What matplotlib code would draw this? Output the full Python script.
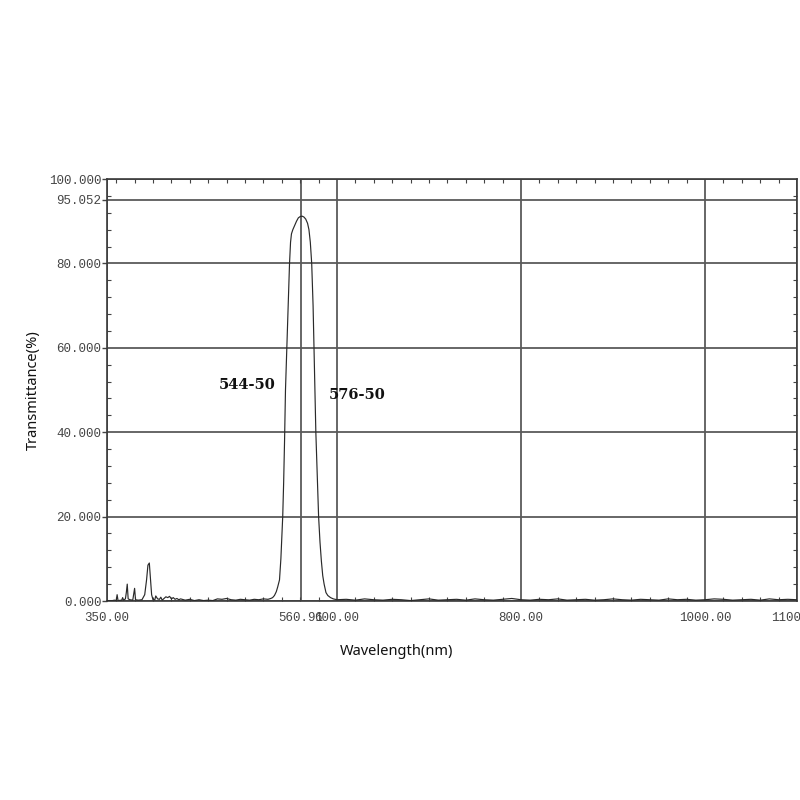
import matplotlib
matplotlib.use("Agg")
import matplotlib.pyplot as plt
from matplotlib.ticker import MultipleLocator, FixedLocator, FixedFormatter

# ---- data ----
wl_blue = [350, 356, 358, 360, 361, 362, 366, 367, 368, 370, 371, 372, 373, 375, 378,
           380, 381, 384, 388, 391, 393, 394.5, 396, 397, 398.5, 400, 402, 403, 405,
           407, 408.5, 410, 412, 414, 416, 418, 420, 422, 424, 426, 428, 430]
t_blue = [0.1, 0.1, 0.2, 0.1, 1.5, 0.1, 0.2, 0.8, 0.2, 0.5, 2.0, 4.0, 0.5, 0.3, 0.2,
          3.0, 0.3, 0.2, 0.3, 1.5, 5.0, 8.5, 9.0, 6.0, 1.5, 0.3, 0.3, 1.2, 0.5,
          0.4, 0.9, 0.2, 0.6, 1.0, 0.8, 1.1, 0.5, 0.8, 0.4, 0.6, 0.3, 0.5]

wl_pre = [435, 440, 445, 450, 455, 460, 465, 470, 475, 480, 485, 490, 495, 500,
          505, 510, 515, 520, 525, 528]
t_pre = [0.2, 0.4, 0.1, 0.3, 0.1, 0.2, 0.1, 0.5, 0.4, 0.6, 0.3, 0.2, 0.4, 0.3,
         0.2, 0.4, 0.3, 0.5, 0.4, 0.6]

wl_band = [530, 532, 534, 535.5, 537.5, 539, 540, 541, 542, 543, 544, 545.5, 547, 548.4,
           549.5, 550.5, 552, 554, 556, 558, 560, 562, 564, 566, 568, 569.5, 571,
           572.5, 574, 575, 576, 577, 578.5, 580, 581.5, 583, 584.5, 586, 588, 590,
           593, 596]
t_band = [0.8, 1.3, 2.2, 3.3, 5.0, 10.0, 15.0, 20.0, 28.0, 38.0, 50.0, 60.0, 70.0, 80.0,
          85.0, 87.0, 88.0, 89.0, 90.0, 90.8, 91.1, 91.2, 91.0, 90.5, 89.5, 88.0, 85.0,
          80.0, 70.0, 60.0, 50.0, 40.0, 30.0, 20.0, 14.0, 9.5, 6.0, 4.0, 2.0, 1.3,
          0.8, 0.5]

wl_tail = [600, 610, 620, 630, 640, 650, 660, 670, 680, 690, 700, 710, 720, 730, 740,
           750, 760, 770, 780, 790, 800, 810, 820, 830, 840, 850, 860, 870, 880, 890,
           900, 910, 920, 930, 940, 950, 960, 970, 980, 990, 1000, 1010, 1020, 1030,
           1040, 1050, 1060, 1070, 1080, 1090, 1100]
t_tail = [0.3, 0.4, 0.2, 0.5, 0.3, 0.2, 0.4, 0.3, 0.1, 0.3, 0.5, 0.2, 0.3, 0.4, 0.2,
          0.5, 0.3, 0.2, 0.4, 0.6, 0.3, 0.2, 0.4, 0.3, 0.5, 0.2, 0.3, 0.4, 0.2, 0.3,
          0.5, 0.3, 0.2, 0.4, 0.3, 0.2, 0.5, 0.3, 0.4, 0.2, 0.3, 0.5, 0.4, 0.2, 0.3,
          0.4, 0.2, 0.5, 0.3, 0.4, 0.3]

x_ticks = [350, 560.91, 600, 800, 1000, 1100]
x_tick_labels = ["350.00", "560.91", "600.00", "800.00", "1000.00", "1100.00"]
y_ticks = [0, 20, 40, 60, 80, 95.052, 100]
y_tick_labels = ["0.000", "20.000", "40.000", "60.000", "80.000", "95.052", "100.000"]
annotations = [("544-50", 502, 51.2), ("576-50", 622, 48.8)]

wavelength = wl_blue + wl_pre + wl_band + wl_tail
transmittance = t_blue + t_pre + t_band + t_tail

# ---- figure ----
fig = plt.figure(figsize=(8, 8), dpi=100)
ax = fig.add_axes([107 / 800, 1 - 601 / 800, 690 / 800, 422 / 800])

ax.plot(wavelength, transmittance, color="#2a2a2a", lw=0.85, zorder=3)

ax.set_xlim(350, 1100)
ax.set_ylim(0, 100)

ax.xaxis.set_major_locator(FixedLocator(x_ticks))
ax.xaxis.set_major_formatter(FixedFormatter(x_tick_labels))
ax.yaxis.set_major_locator(FixedLocator(y_ticks))
ax.yaxis.set_major_formatter(FixedFormatter(y_tick_labels))
ax.xaxis.set_minor_locator(MultipleLocator(20))
ax.yaxis.set_minor_locator(MultipleLocator(4))

ax.grid(True, which="major", color="#5a5a5a", lw=1.3, zorder=1)

ax.tick_params(axis="x", which="major", length=0, pad=8, labelsize=9,
               labelcolor="#454545", labelfontfamily="Liberation Mono")
ax.tick_params(axis="y", which="major", direction="out", length=3.5, width=1.0,
               pad=0.5, color="#444444", labelsize=9, labelcolor="#454545",
               labelfontfamily="Liberation Mono")
ax.tick_params(which="minor", direction="in", length=3, width=0.8, color="#444444",
               top=True, bottom=True, left=True, right=True)

for s in ax.spines.values():
    s.set_color("#3a3a3a")
    s.set_linewidth(1.2)

ax.set_xlabel("Wavelength(nm)", fontsize=10.5, family="Noto Sans", color="#111111")
ax.set_ylabel("Transmittance(%)", fontsize=10.5, family="Noto Sans", color="#111111")
ax.xaxis.set_label_coords((397 - 107) / 690, -(644 - 601) / 422)
ax.yaxis.set_label_coords((41 - 107) / 690, 0.5)

for txt, xv, yv in annotations:
    ax.text(xv, yv, txt, ha="center", va="center", fontsize=10.5,
            family="DejaVu Serif", fontweight="bold", color="#111111", zorder=4)

fig.savefig("out.png", dpi=100)
